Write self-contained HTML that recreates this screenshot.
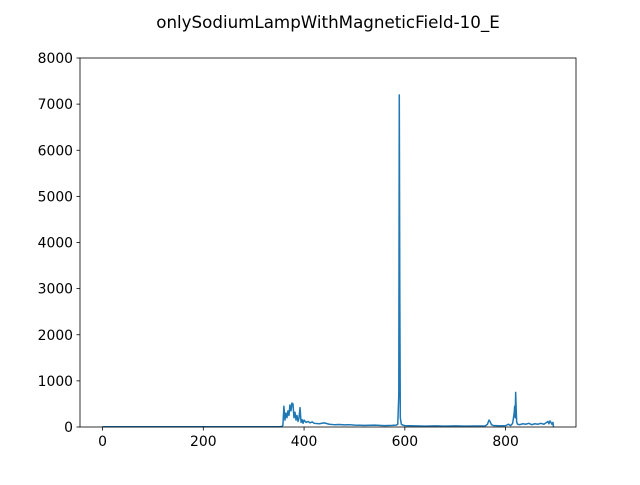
<!DOCTYPE html>
<html><head><meta charset="utf-8"><style>
body{margin:0;background:#fff}
svg text{font-family:"DejaVu Sans","Liberation Sans",sans-serif;font-size:13.9px;fill:#000}
</style></head><body>
<svg id="c" width="640" height="480"></svg>
<script>
const xs=[0,100,200,300,350,356,358,360,362,364,366,368,370,372,374,376,378,380,382,384,386,388,390,392,394,396,398,400,404,408,412,416,420,430,440,450,460,470,480,490,500,520,540,560,575,583,586,588,589,590,591,593,596,600,620,640,660,680,700,720,740,760,764,767,769,772,776,780,790,800,806,810,814,817,818,819,820,821,822,824,828,834,840,846,852,858,864,870,876,880,884,886,888,890,892,894,895];
const ys=[5,5,5,5,5,10,40,450,150,300,200,350,250,480,350,520,500,200,320,150,250,120,200,420,100,160,80,150,100,120,90,110,80,70,90,60,50,55,45,50,40,35,40,30,35,40,60,700,7200,3000,200,60,40,30,25,20,25,20,25,20,22,25,60,150,120,50,30,30,25,30,60,30,80,300,450,200,750,400,100,60,50,70,60,80,50,70,60,80,60,90,120,70,130,100,60,100,0];
const xTicks=[0,200,400,600,800];
const yTicks=[0,1000,2000,3000,4000,5000,6000,7000,8000];
const svg=document.getElementById('c'),NS='http://www.w3.org/2000/svg';
const L=80,R=576,T=58,B=427,xmin=-44.75,xmax=939.75,ymax=8000;
const X=v=>L+(v-xmin)/(xmax-xmin)*(R-L),Y=v=>B-v/ymax*(B-T);
function mk(t,a,p){const e=document.createElementNS(NS,t);for(const k in a)e.setAttribute(k,a[k]);(p||svg).appendChild(e);return e;}
let t=mk('text',{x:328,y:28,'text-anchor':'middle'});t.style.fontSize='16.7px';t.textContent='onlySodiumLampWithMagneticField-10_E';

let d=xs.map((v,i)=>(i?'L':'M')+X(v).toFixed(2)+','+Y(ys[i]).toFixed(2)).join('');
let p=mk('path',{d:d,fill:'none',stroke:'#1f77b4','stroke-width':'1.5','stroke-linejoin':'round'});

let f=mk('rect',{x:L,y:T,width:R-L,height:B-T,fill:'none',stroke:'#000','stroke-width':'0.8'});

xTicks.forEach(v=>{const x=X(v);mk('line',{x1:x,x2:x,y1:B,y2:B+3.5,stroke:'#000','stroke-width':'0.8'});
 const e=mk('text',{x:x,y:B+19,'text-anchor':'middle'});e.textContent=v;
 });
yTicks.forEach(v=>{const y=Y(v);mk('line',{x1:L-3.5,x2:L,y1:y,y2:y,stroke:'#000','stroke-width':'0.8'});
 const e=mk('text',{x:L-7,y:y+5,'text-anchor':'end'});e.textContent=v;
 });
</script></body></html>
